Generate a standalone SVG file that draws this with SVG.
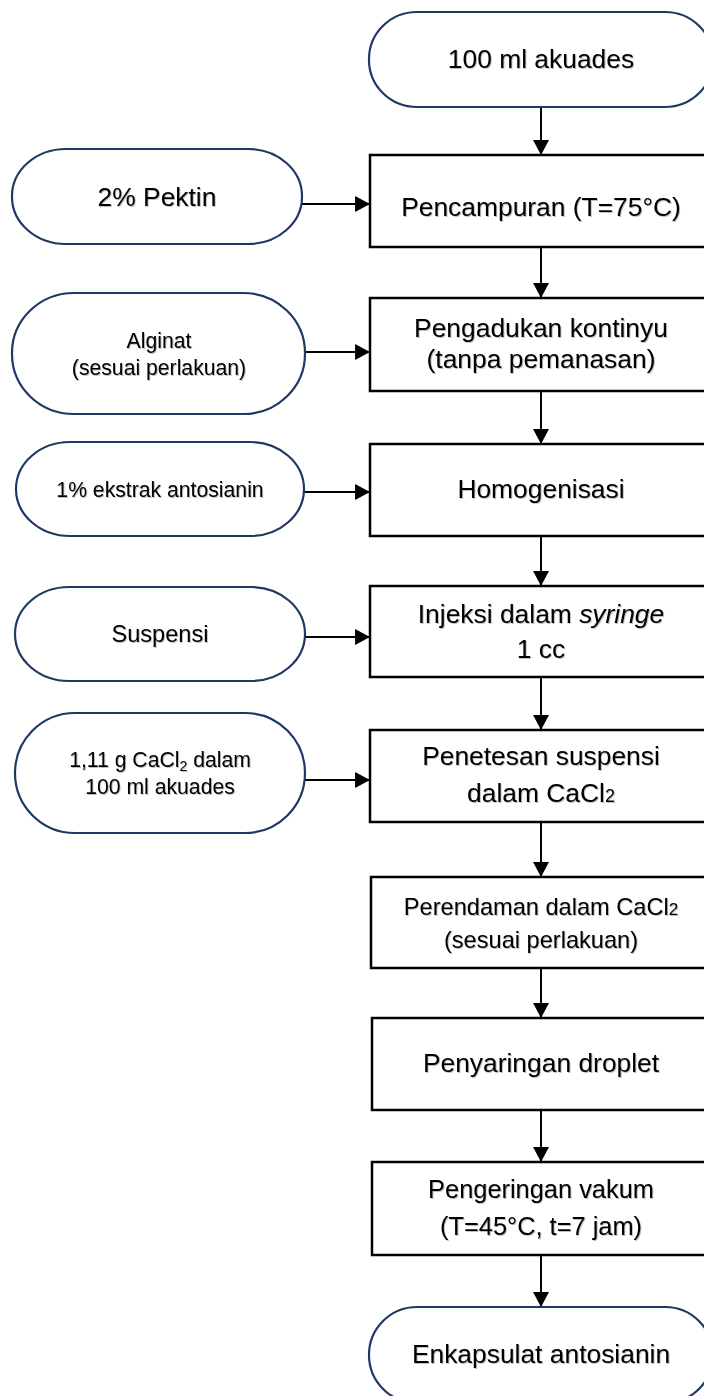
<svg xmlns="http://www.w3.org/2000/svg" width="704" height="1396" viewBox="0 0 704 1396">
<defs>
<style>
.term{fill:#fff;stroke:#1f3864;stroke-width:2.2}
.box{fill:#fff;stroke:#000;stroke-width:2.5}
.con{fill:none;stroke:#000;stroke-width:2}
text{font-family:"Liberation Sans",Arial,sans-serif;fill:#000;text-anchor:middle;filter:url(#sh)}
.L{font-size:26.4px}
.M{font-size:23.6px}
.S{font-size:21.2px}
</style>
<filter id="sh" x="-5%" y="-20%" width="110%" height="140%">
<feDropShadow dx="1" dy="1" stdDeviation="0.7" flood-color="#000" flood-opacity="0.25"/>
</filter>
<marker id="ah" markerUnits="userSpaceOnUse" markerWidth="16" markerHeight="16" viewBox="0 0 14 15" refX="14" refY="7.5" orient="auto">
<path d="M0,0 L14,7.5 L0,15 Z" fill="#000"/>
</marker>
</defs>

<g id="connectors">
<line class="con" x1="541" y1="107" x2="541" y2="155" marker-end="url(#ah)"/>
<line class="con" x1="541" y1="247" x2="541" y2="298" marker-end="url(#ah)"/>
<line class="con" x1="541" y1="391" x2="541" y2="444" marker-end="url(#ah)"/>
<line class="con" x1="541" y1="536" x2="541" y2="586" marker-end="url(#ah)"/>
<line class="con" x1="541" y1="677" x2="541" y2="730" marker-end="url(#ah)"/>
<line class="con" x1="541" y1="822" x2="541" y2="877" marker-end="url(#ah)"/>
<line class="con" x1="541" y1="968" x2="541" y2="1018" marker-end="url(#ah)"/>
<line class="con" x1="541" y1="1110" x2="541" y2="1162" marker-end="url(#ah)"/>
<line class="con" x1="541" y1="1255" x2="541" y2="1307" marker-end="url(#ah)"/>
<line class="con" x1="302" y1="204" x2="370" y2="204" marker-end="url(#ah)"/>
<line class="con" x1="305" y1="352" x2="370" y2="352" marker-end="url(#ah)"/>
<line class="con" x1="304" y1="492" x2="370" y2="492" marker-end="url(#ah)"/>
<line class="con" x1="305" y1="637" x2="370" y2="637" marker-end="url(#ah)"/>
<line class="con" x1="305" y1="780" x2="370" y2="780" marker-end="url(#ah)"/>
</g>

<g id="n-akuades">
<rect class="term" x="369" y="12" width="344" height="95" rx="48" ry="47"/>
<text class="L" x="541" y="68">100 ml akuades</text>
</g>
<g id="n-pencampuran">
<rect class="box" x="370" y="155" width="344" height="92"/>
<text class="L" x="541" y="216">Pencampuran (T=75°C)</text>
</g>
<g id="n-pektin">
<rect class="term" x="12" y="149" width="290" height="95" rx="54" ry="47"/>
<text class="L" x="157" y="206">2% Pektin</text>
</g>
<g id="n-pengadukan">
<rect class="box" x="370" y="298" width="344" height="93"/>
<text class="L" x="541" y="337">Pengadukan kontinyu</text>
<text class="L" x="541" y="368">(tanpa pemanasan)</text>
</g>
<g id="n-alginat">
<rect class="term" x="12" y="293" width="293" height="121" rx="62" ry="60"/>
<text class="S" x="159" y="348">Alginat</text>
<text class="S" x="159" y="375">(sesuai perlakuan)</text>
</g>
<g id="n-homogenisasi">
<rect class="box" x="370" y="444" width="344" height="92"/>
<text class="L" x="541" y="498">Homogenisasi</text>
</g>
<g id="n-ekstrak">
<rect class="term" x="16" y="442" width="288" height="94" rx="54" ry="47"/>
<text class="S" x="160" y="497">1% ekstrak antosianin</text>
</g>
<g id="n-injeksi">
<rect class="box" x="370" y="586" width="344" height="91"/>
<text class="L" x="541" y="623">Injeksi dalam <tspan font-style="italic">syringe</tspan></text>
<text class="L" x="541" y="658">1 cc</text>
</g>
<g id="n-suspensi">
<rect class="term" x="15" y="587" width="290" height="94" rx="54" ry="47"/>
<text class="M" x="160" y="642">Suspensi</text>
</g>
<g id="n-penetesan">
<rect class="box" x="370" y="730" width="344" height="92"/>
<text class="L" x="541" y="765">Penetesan suspensi</text>
<text class="L" x="541" y="802">dalam CaCl<tspan font-size="18">2</tspan></text>
</g>
<g id="n-cacl2">
<rect class="term" x="15" y="713" width="290" height="120" rx="60" ry="60"/>
<text class="S" x="160" y="767">1,11 g CaCl<tspan font-size="14" dy="4">2</tspan><tspan dy="-4"> dalam</tspan></text>
<text class="S" x="160" y="794">100 ml akuades</text>
</g>
<g id="n-perendaman">
<rect class="box" x="371" y="877" width="344" height="91"/>
<text class="M" x="541" y="915">Perendaman dalam CaCl<tspan font-size="17">2</tspan></text>
<text class="M" x="541" y="948">(sesuai perlakuan)</text>
</g>
<g id="n-penyaringan">
<rect class="box" x="372" y="1018" width="344" height="92"/>
<text class="L" x="541" y="1072">Penyaringan droplet</text>
</g>
<g id="n-pengeringan">
<rect class="box" x="372" y="1162" width="344" height="93"/>
<text class="L" x="541" y="1198" style="font-size:25.4px">Pengeringan vakum</text>
<text class="L" x="541" y="1235" style="font-size:25.4px">(T=45°C, t=7 jam)</text>
</g>
<g id="n-enkapsulat">
<rect class="term" x="369" y="1307" width="344" height="96" rx="48" ry="48"/>
<text class="L" x="541" y="1363">Enkapsulat antosianin</text>
</g>
</svg>
